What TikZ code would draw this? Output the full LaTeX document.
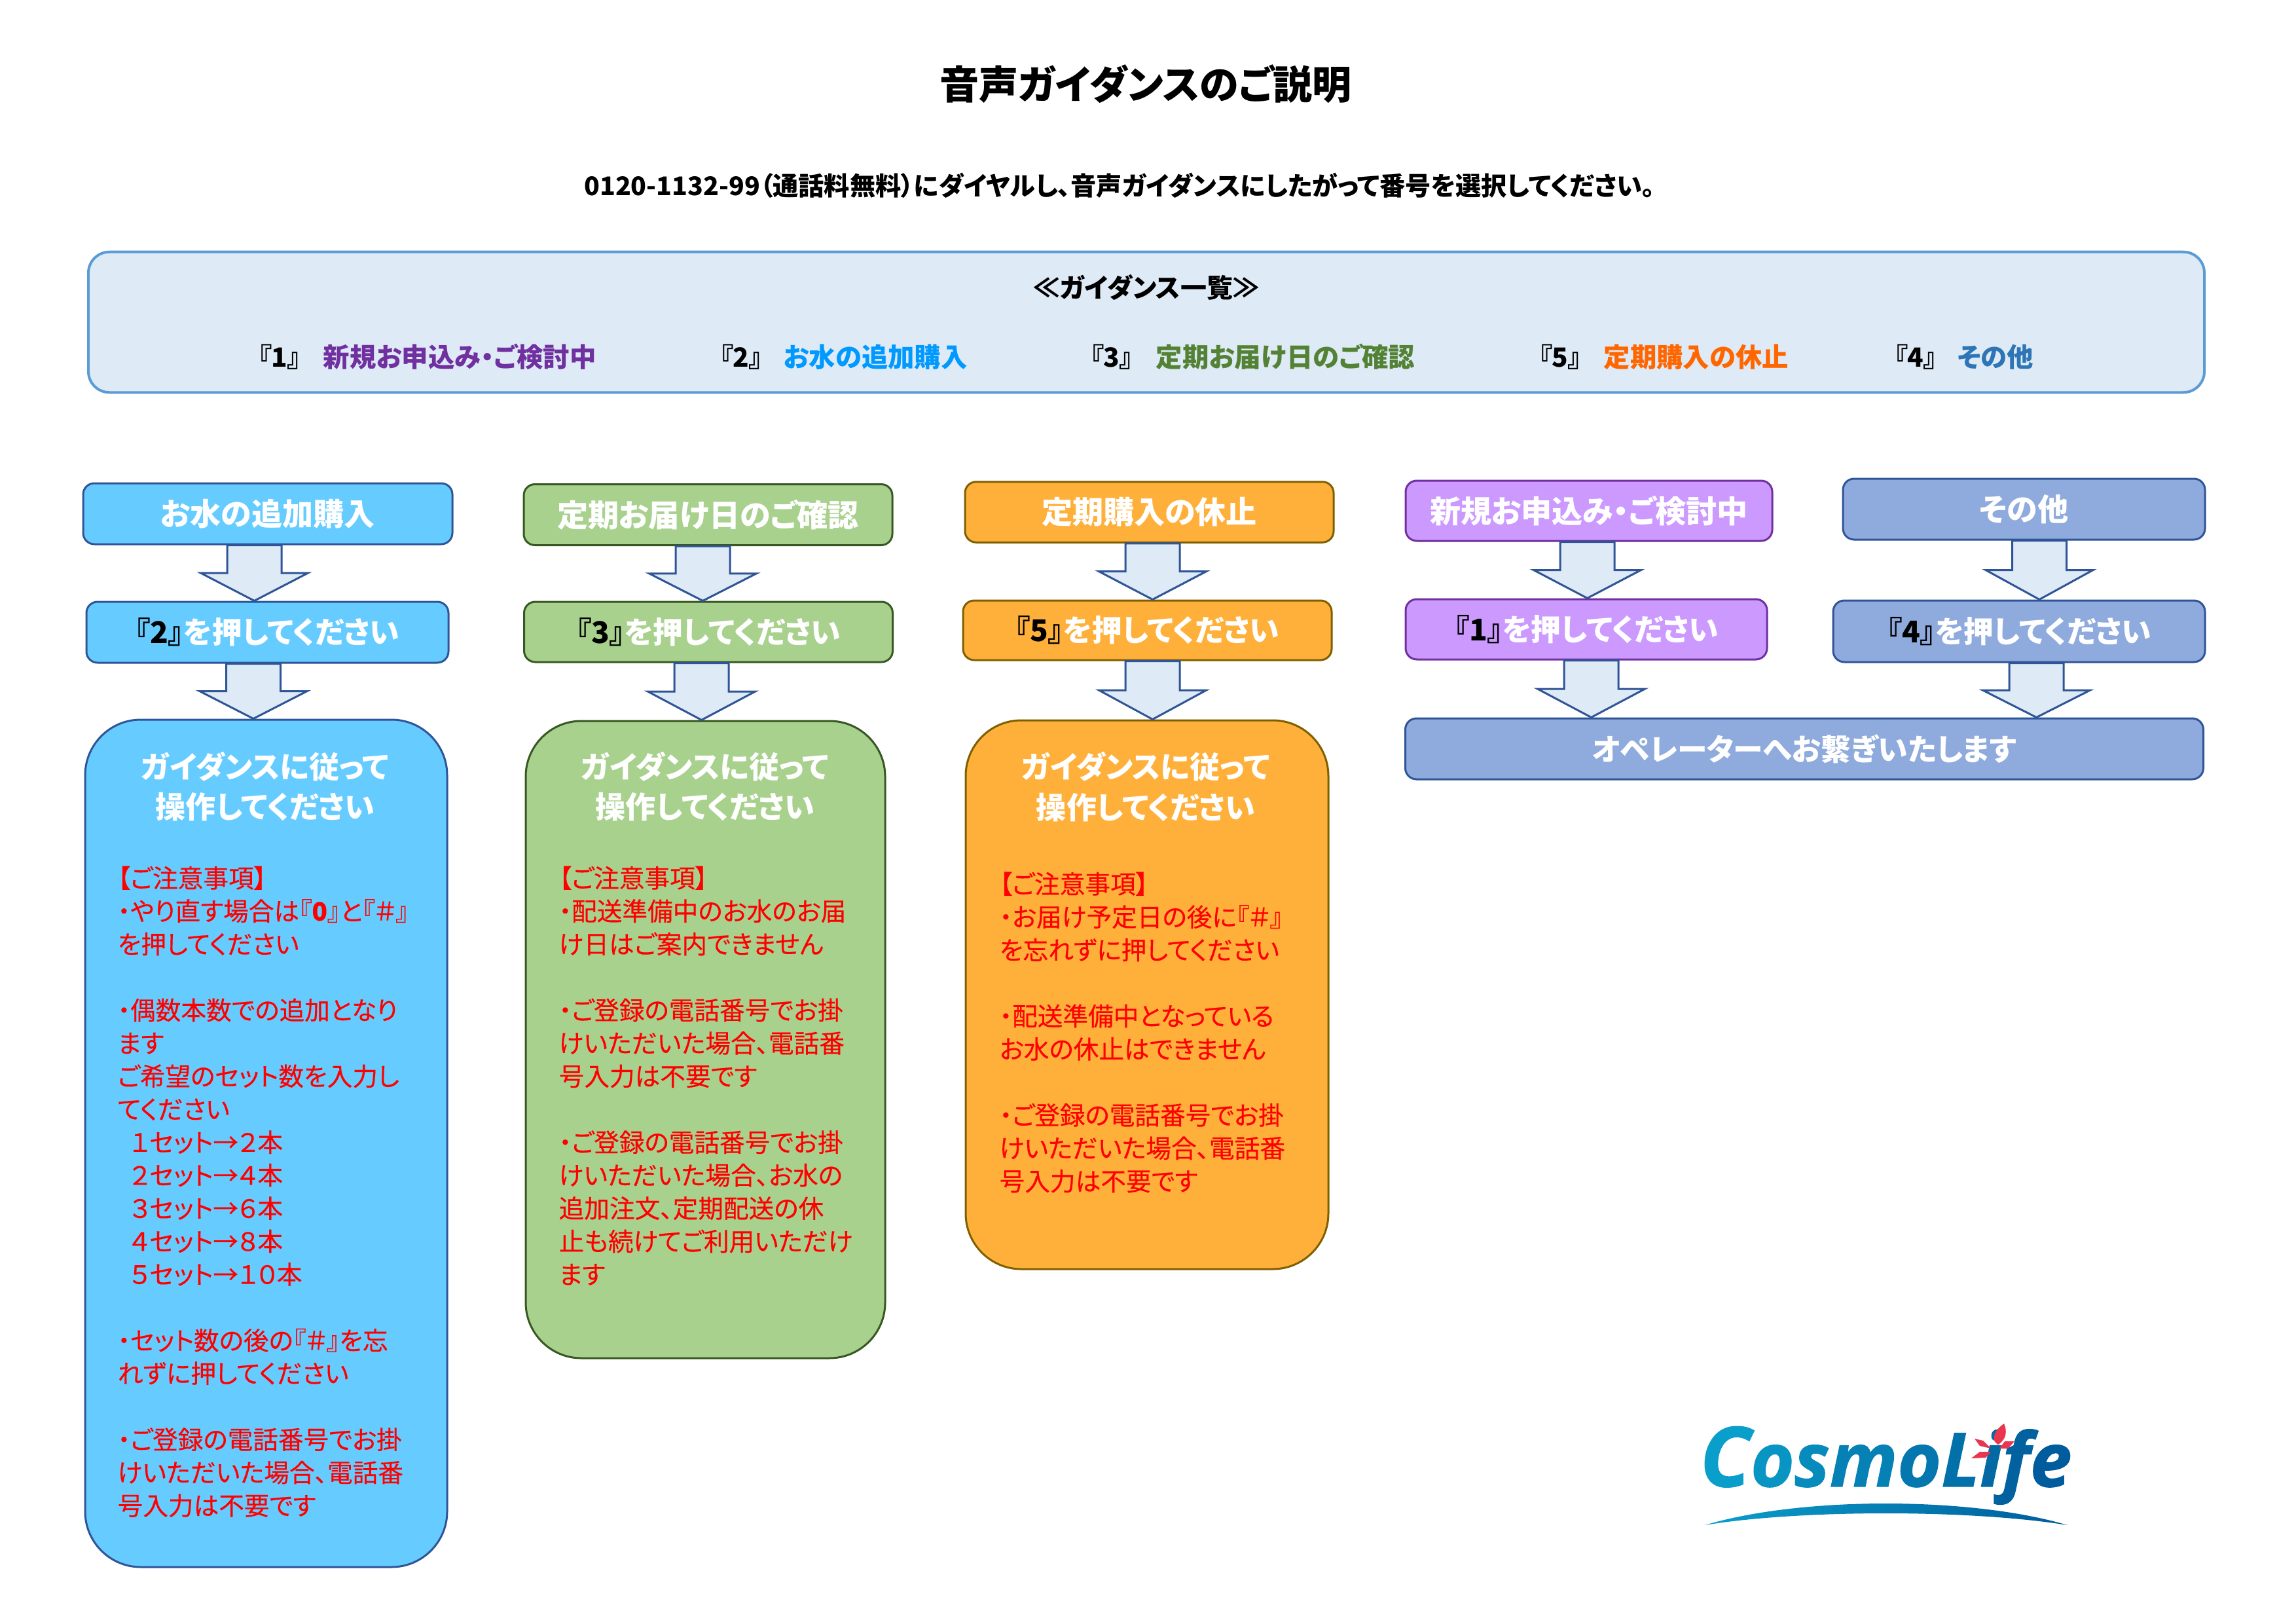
\documentclass[tikz,border=0pt]{standalone}
\usepackage{fontspec}
\setmainfont{Noto Sans CJK JP}[RawFeature=+palt]
\newfontfamily\notefont{Noto Sans CJK JP}[RawFeature=+palt,FakeBold=0.25]
\newfontfamily\logofont{Open Sans}[BoldItalicFeatures={FakeBold=1.2}]
\usetikzlibrary{calc}
\definecolor{panelfill}{HTML}{DEEAF6}
\definecolor{panelline}{HTML}{5B9BD5}
\definecolor{arrowline}{HTML}{2F5597}
\definecolor{addfill}{HTML}{66CCFF}
\definecolor{datefill}{HTML}{A9D18E}
\definecolor{dateline}{HTML}{385723}
\definecolor{stopfill}{HTML}{FFB03B}
\definecolor{stopline}{HTML}{7F6000}
\definecolor{newfill}{HTML}{CC99FF}
\definecolor{newline}{HTML}{7030A0}
\definecolor{otherfill}{HTML}{8FAADC}
\definecolor{rowblue}{HTML}{0099FF}
\definecolor{rowgreen}{HTML}{548235}
\definecolor{roworange}{HTML}{FF6600}
\definecolor{rowother}{HTML}{2E75B6}
\definecolor{logoleft}{HTML}{0A9FCB}
\definecolor{logoright}{HTML}{005C9C}
\definecolor{logored}{HTML}{E8364E}
\tikzset{
labelbox/.style 2 args={draw=#1,fill=#2,line width=0.03cm,rounded corners=0.17cm,inner sep=0,
  text=white,font=\fontsize{13.4}{17.6}\selectfont\bfseries},
keybox/.style 2 args={labelbox={#1}{#2},font=\fontsize{13}{17.6}\selectfont\bfseries},
notebox/.style 2 args={draw=#1,fill=#2,line width=0.03cm,rounded corners=0.85cm,inner sep=0},
notehead/.style={text=white,align=center,inner sep=0,font=\fontsize{13.1}{17.6}\selectfont\bfseries},
notetext/.style={text=red,align=left,inner sep=0,anchor=north west,font=\notefont\fontsize{11}{14.35}\selectfont},
rowtext/.style={anchor=west,inner sep=0,font=\fontsize{11.5}{14}\selectfont\bfseries},
blockarrow/.style={draw=arrowline,fill=panelfill,line width=0.03cm,line join=miter},
}
% x of the arrow, node it leaves, node it points at
\newcommand{\blockarrow}[3]{
\draw[blockarrow] let \p1=(#2.south), \p2=(#3.north), \p3=(#1,0), \n1={0.5*(\y1+\y2)} in
  (\x3-0.415cm,\y1) -- (\x3-0.415cm,\n1) -- (\x3-0.82cm,\n1) -- (\x3,\y2)
  -- (\x3+0.82cm,\n1) -- (\x3+0.415cm,\n1) -- (\x3+0.415cm,\y1) -- cycle;
}
\newcommand{\keynum}[1]{\textcolor{black}{『#1』}}
\begin{document}
\begin{tikzpicture}
\useasboundingbox (0,0) rectangle (35.07,-24.8);
\node[inner sep=0,font=\fontsize{17.1}{20}\selectfont\bfseries] (title) at (17.5,-1.28) {音声ガイダンスのご説明};
\node[inner sep=0,font=\fontsize{11.15}{14}\selectfont\bfseries] (dial) at (17.1,-2.83) {0120-1132-99（通話料無料）にダイヤルし、音声ガイダンスにしたがって番号を選択してください。};

% guidance list
\node[draw=panelline,fill=panelfill,line width=0.04cm,rounded corners=0.32cm,minimum width=32.32cm,minimum height=2.145cm] (panel) at (17.51,-4.92) {};
\node[inner sep=0,font=\fontsize{11.38}{14}\selectfont\bfseries] (listhead) at (17.51,-4.39) {≪ガイダンス一覧≫};
\node[rowtext] (rowkeyA) at (3.94,-5.45) {『1』};
\node[rowtext,text=newline] (rowA) at (4.93,-5.45) {新規お申込み・ご検討中};
\node[rowtext] (rowkeyB) at (10.99,-5.45) {『2』};
\node[rowtext,text=rowblue] (rowB) at (11.96,-5.45) {お水の追加購入};
\node[rowtext] (rowkeyC) at (16.65,-5.45) {『3』};
\node[rowtext,text=rowgreen] (rowC) at (17.65,-5.45) {定期お届け日のご確認};
\node[rowtext] (rowkeyD) at (23.50,-5.45) {『5』};
\node[rowtext,text=roworange] (rowD) at (24.49,-5.45) {定期購入の休止};
\node[rowtext] (rowkeyE) at (28.93,-5.45) {『4』};
\node[rowtext,text=rowother] (rowE) at (29.89,-5.45) {その他};

% add water
\node[labelbox={arrowline}{addfill},minimum width=5.64cm,minimum height=0.93cm] (addbox) at (4.09,-7.845) {お水の追加購入};
\node[keybox={arrowline}{addfill},minimum width=5.53cm,minimum height=0.93cm] (addkey) at (4.085,-9.655) {\keynum{2}を押してください};
\node[notebox={arrowline}{addfill},minimum width=5.53cm,minimum height=12.94cm] (addnote) at (4.065,-17.46) {};
\node[notehead] (addhead) at (4.05,-12.01) {ガイダンスに従って\\操作してください};
\node[notetext] (addtext) at (1.79,-13.22) {【ご注意事項】\\
・やり直す場合は『\textbf{0}』と『＃』\\
を押してください\\
\mbox{}\\
・偶数本数での追加となり\\
ます\\
ご希望のセット数を入力し\\
てください\\
\hspace*{0.5em}１セット→２本\\
\hspace*{0.5em}２セット→４本\\
\hspace*{0.5em}３セット→６本\\
\hspace*{0.5em}４セット→８本\\
\hspace*{0.5em}５セット→１０本\\
\mbox{}\\
・セット数の後の『＃』を忘\\
れずに押してください\\
\mbox{}\\
・ご登録の電話番号でお掛\\
けいただいた場合、電話番\\
号入力は不要です};
\blockarrow{3.885}{addbox}{addkey}
\blockarrow{3.87}{addkey}{addnote}

% delivery date
\node[labelbox={dateline}{datefill},minimum width=5.63cm,minimum height=0.93cm] (datebox) at (10.815,-7.86) {定期お届け日のご確認};
\node[keybox={dateline}{datefill},minimum width=5.63cm,minimum height=0.92cm] (datekey) at (10.82,-9.65) {\keynum{3}を押してください};
\node[notebox={dateline}{datefill},minimum width=5.49cm,minimum height=9.73cm] (datenote) at (10.775,-15.875) {};
\node[notehead] (datehead) at (10.77,-12.01) {ガイダンスに従って\\操作してください};
\node[notetext] (datetext) at (8.53,-13.22) {【ご注意事項】\\
・配送準備中のお水のお届\\
け日はご案内できません\\
\mbox{}\\
・ご登録の電話番号でお掛\\
けいただいた場合、電話番\\
号入力は不要です\\
\mbox{}\\
・ご登録の電話番号でお掛\\
けいただいた場合、お水の\\
追加注文、定期配送の休\\
止も続けてご利用いただけ\\
ます};
\blockarrow{10.735}{datebox}{datekey}
\blockarrow{10.715}{datekey}{datenote}

% pause
\node[labelbox={stopline}{stopfill},minimum width=5.63cm,minimum height=0.925cm] (stopbox) at (17.555,-7.82) {定期購入の休止};
\node[keybox={stopline}{stopfill},minimum width=5.63cm,minimum height=0.91cm] (stopkey) at (17.525,-9.625) {\keynum{5}を押してください};
\node[notebox={stopline}{stopfill},minimum width=5.54cm,minimum height=8.38cm] (stopnote) at (17.52,-15.19) {};
\node[notehead] (stophead) at (17.5,-12.015) {ガイダンスに従って\\操作してください};
\node[notetext] (stoptext) at (15.26,-13.31) {【ご注意事項】\\
・お届け予定日の後に『＃』\\
を忘れずに押してください\\
\mbox{}\\
・配送準備中となっている\\
お水の休止はできません\\
\mbox{}\\
・ご登録の電話番号でお掛\\
けいただいた場合、電話番\\
号入力は不要です};
\blockarrow{17.605}{stopbox}{stopkey}
\blockarrow{17.605}{stopkey}{stopnote}

% new order and other
\node[labelbox={newline}{newfill},minimum width=5.60cm,minimum height=0.92cm] (newbox) at (24.27,-7.80) {新規お申込み・ご検討中};
\node[keybox={newline}{newfill},minimum width=5.52cm,minimum height=0.92cm] (newkey) at (24.23,-9.61) {\keynum{1}を押してください};
\node[labelbox={arrowline}{otherfill},minimum width=5.53cm,minimum height=0.93cm] (otherbox) at (30.915,-7.775) {その他};
\node[keybox={arrowline}{otherfill},minimum width=5.68cm,minimum height=0.94cm] (otherkey) at (30.84,-9.64) {\keynum{4}を押してください};
\node[keybox={arrowline}{otherfill},minimum width=12.19cm,minimum height=0.93cm] (opbox) at (27.56,-11.435) {オペレーターへお繋ぎいたします};
\blockarrow{24.245}{newbox}{newkey}
\blockarrow{24.305}{newkey}{opbox}
\blockarrow{31.15}{otherbox}{otherkey}
\blockarrow{31.105}{otherkey}{opbox}

% logo
\node[anchor=base west,inner sep=0,font=\logofont\fontsize{32.5}{33}\selectfont\bfseries\itshape] (logo) at (25.96,-22.70)
{\textcolor[HTML]{0A9FCB}{\fontsize{36}{33}\selectfont C}\textcolor[HTML]{0895C4}{o}\textcolor[HTML]{068BBC}{s}\textcolor[HTML]{0581B5}{m}\textcolor[HTML]{0478AE}{o}\textcolor[HTML]{0371A9}{L}\textcolor[HTML]{0269A4}{i}\textcolor[HTML]{01629F}{f}\textcolor[HTML]{005C9C}{e}};
\fill[logored] (30.61,-21.74) .. controls (30.45,-21.85) and (30.40,-22.0) .. (30.52,-22.06) .. controls (30.65,-21.98) and (30.66,-21.85) .. (30.61,-21.74);
\fill[logored] (30.16,-21.97) -- (30.29,-22.0) -- (30.41,-22.12) -- (30.24,-22.08) -- cycle;
\fill[logored] (30.77,-22.01) -- (30.62,-22.01) -- (30.54,-22.12) -- (30.67,-22.12) -- cycle;
\fill[logored] (30.41,-22.17) -- (30.24,-22.17) -- (30.11,-22.27) -- (30.33,-22.26) -- cycle;
\shade[left color=logoleft,right color=logoright] (26.04,-23.29) .. controls (27.5,-22.85) and (30.1,-22.85) .. (31.58,-23.29) .. controls (30.1,-23.05) and (27.5,-23.05) .. (26.04,-23.29);
\end{tikzpicture}
\end{document}
